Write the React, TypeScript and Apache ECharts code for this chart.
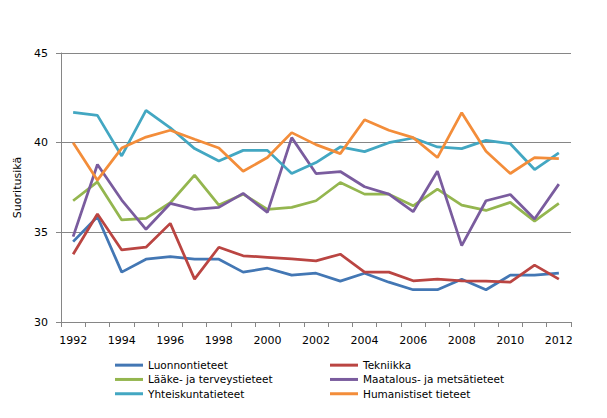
import React, { useEffect, useRef } from 'react';
import * as echarts from 'echarts';

const years = ['1992', '1993', '1994', '1995', '1996', '1997', '1998', '1999', '2000', '2001', '2002',
    '2003', '2004', '2005', '2006', '2007', '2008', '2009', '2010', '2011', '2012'];

const luonnontieteet = [34.48, 35.87, 32.78, 33.5, 33.65, 33.5, 33.5, 32.78, 33.0, 32.61, 32.72,
    32.28, 32.72, 32.22, 31.8, 31.8, 32.39, 31.8, 32.61, 32.61, 32.72];
const tekniikka = [33.78, 36.02, 34.02, 34.17, 35.5, 32.39, 34.17, 33.69, 33.61, 33.52, 33.41,
    33.78, 32.78, 32.78, 32.3, 32.39, 32.3, 32.28, 32.22, 33.17, 32.39];
const laake = [36.76, 37.81, 35.69, 35.78, 36.65, 38.19, 36.52, 37.13, 36.28, 36.39, 36.76,
    37.78, 37.13, 37.13, 36.48, 37.41, 36.52, 36.22, 36.67, 35.63, 36.61];
const maatalous = [34.76, 38.78, 36.8, 35.17, 36.61, 36.28, 36.39, 37.17, 36.11, 40.28, 38.28,
    38.39, 37.54, 37.13, 36.15, 38.41, 34.26, 36.76, 37.11, 35.74, 37.69];
const yhteiskunta = [41.69, 41.52, 39.26, 41.8, 40.83, 39.67, 38.98, 39.57, 39.57, 38.28, 38.89,
    39.76, 39.5, 40.0, 40.26, 39.76, 39.67, 40.13, 39.94, 38.5, 39.43];
const humanistiset = [40.0, 37.91, 39.7, 40.31, 40.69, 40.19, 39.7, 38.41, 39.17, 40.56, 39.89,
    39.39, 41.28, 40.69, 40.28, 39.17, 41.67, 39.52, 38.28, 39.17, 39.11];

const seriesDefs = [
    { name: 'Luonnontieteet', data: luonnontieteet, color: '#4377B4' },
    { name: 'Tekniikka', data: tekniikka, color: '#BA4542' },
    { name: 'Lääke- ja terveystieteet', data: laake, color: '#94B64F' },
    { name: 'Maatalous- ja metsätieteet', data: maatalous, color: '#7A5C9E' },
    { name: 'Yhteiskuntatieteet', data: yhteiskunta, color: '#43A7C2' },
    { name: 'Humanistiset tieteet', data: humanistiset, color: '#F38D3A' }
];

const font = 'DejaVu Sans';

const App: React.FC = () => {
    const chartRef = useRef<HTMLDivElement>(null);

    useEffect(() => {
        if (!chartRef.current) return;
        const myChart = echarts.init(chartRef.current, undefined, { renderer: 'svg' });

        const legendBase = {
            orient: 'vertical' as const,
            top: 353,
            itemWidth: 28,
            itemHeight: 3,
            itemGap: 0,
            icon: 'rect',
            textStyle: { fontFamily: font, fontSize: 10.5, color: '#000', lineHeight: 14.3 }
        };

        const option: echarts.EChartsOption = {
            animation: false,
            backgroundColor: '#fff',
            textStyle: { fontFamily: font },
            grid: { left: 61, right: 36, top: 53, bottom: 96 },
            legend: [
                { ...legendBase, left: 110, data: ['Luonnontieteet', 'Lääke- ja terveystieteet', 'Yhteiskuntatieteet'] },
                { ...legendBase, left: 325, data: ['Tekniikka', 'Maatalous- ja metsätieteet', 'Humanistiset tieteet'] }
            ],
            xAxis: {
                type: 'category',
                data: years,
                boundaryGap: true,
                axisLine: { lineStyle: { color: '#868686', width: 1 } },
                axisTick: { show: true, interval: 0, length: 5, lineStyle: { color: '#868686' } },
                axisLabel: { interval: 1, color: '#000', fontFamily: font, fontSize: 11, margin: 13 },
                splitLine: { show: false }
            },
            yAxis: {
                type: 'value',
                min: 30,
                max: 45,
                interval: 5,
                name: 'Suoritusikä',
                nameLocation: 'middle',
                nameGap: 38,
                nameTextStyle: { color: '#000', fontFamily: font, fontSize: 11 },
                axisLine: { show: true, lineStyle: { color: '#868686', width: 1 } },
                axisTick: { show: true, length: 5, lineStyle: { color: '#868686' } },
                axisLabel: { color: '#000', fontFamily: font, fontSize: 11, margin: 13 },
                splitLine: { lineStyle: { color: '#868686', width: 1 } }
            },
            series: seriesDefs.map(s => ({
                name: s.name,
                type: 'line' as const,
                data: s.data,
                symbol: 'none',
                color: s.color,
                lineStyle: { color: s.color, width: 2.75 }
            }))
        };

        myChart.setOption(option);
        return () => myChart.dispose();
    }, []);

    return <div ref={chartRef} style={{ position: 'fixed', left: 0, top: 0, width: '607px', height: '418px' }} />;
};

export default App;
